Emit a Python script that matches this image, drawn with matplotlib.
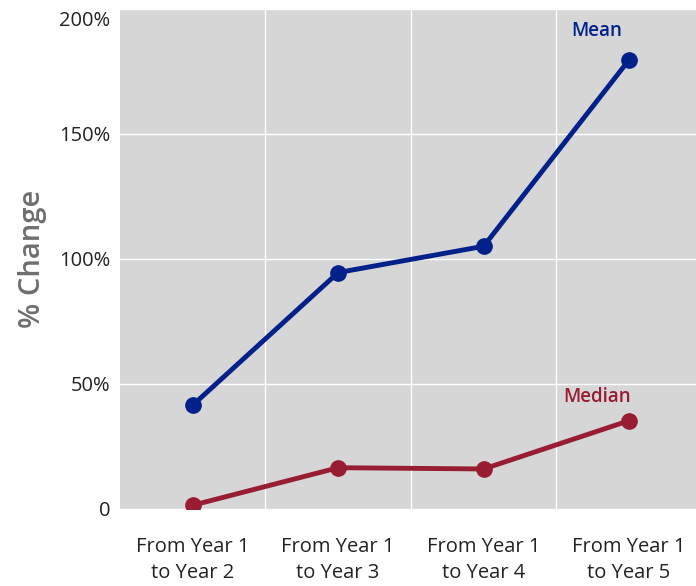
import matplotlib.pyplot as plt
import matplotlib.ticker as mticker
import matplotlib.transforms as mtransforms

plt.rcParams["font.family"] = ["Open Sans", "DejaVu Sans"]

categories = ["From Year 1\nto Year 2", "From Year 1\nto Year 3",
              "From Year 1\nto Year 4", "From Year 1\nto Year 5"]
mean_pct = [41.5, 94.5, 105.0, 179.5]
median_pct = [1.5, 16.5, 16.0, 35.3]

mean_color = "#00208a"
median_color = "#981c32"

fig = plt.figure(figsize=(6.96, 5.86), dpi=100)
ax = fig.add_axes([0.1724, 0.1314, 0.8276, 0.854])
ax.set_facecolor("#d6d6d6")

x = range(len(categories))
ax.plot(x, mean_pct, color=mean_color, lw=3.5, marker="o", ms=11)
ax.plot(x, median_pct, color=median_color, lw=3.5, marker="o", ms=11)

ax.text(2.78, 191, "Mean", color=mean_color, fontsize=13.5, fontweight="semibold",
        fontstretch="normal", ha="center", va="center")
ax.text(2.78, 44.7, "Median", color=median_color, fontsize=13.5, fontweight="semibold",
        fontstretch="normal", ha="center", va="center")

ax.set_xlim(-0.5, 3.46)
ax.set_ylim(0, 200)
ax.set_xticks(list(x))
ax.set_xticklabels(categories, fontsize=14.5, color="#222222", linespacing=1.4)
ax.set_yticks([0, 50, 100, 150, 200])
ax.yaxis.set_major_formatter(mticker.FuncFormatter(
    lambda v, p: "0" if v == 0 else f"{v:.0f}%"))
ax.tick_params(axis="y", labelsize=14.5, labelcolor="#222222", length=0, pad=7)
ax.tick_params(axis="x", which="both", length=0, pad=20)

ax.set_xticks([0.5, 1.5, 2.5], minor=True)
ax.grid(which="minor", axis="x", color="white", lw=1)
ax.grid(which="major", axis="y", color="white", lw=1)
ax.set_axisbelow(True)
ax.set_ylabel("% Change", fontsize=21, fontweight="semibold", fontstretch="normal",
              color="#6e6e6e", labelpad=9)

for s in ax.spines.values():
    s.set_visible(False)

# top tick label sits a little lower than its gridline, as in the original
top_label = ax.get_yticklabels()[-1]
shift = mtransforms.ScaledTranslation(0, -10 / 100, fig.dpi_scale_trans)
top_label.set_transform(top_label.get_transform() + shift)

fig.savefig("out.png", dpi=100)
